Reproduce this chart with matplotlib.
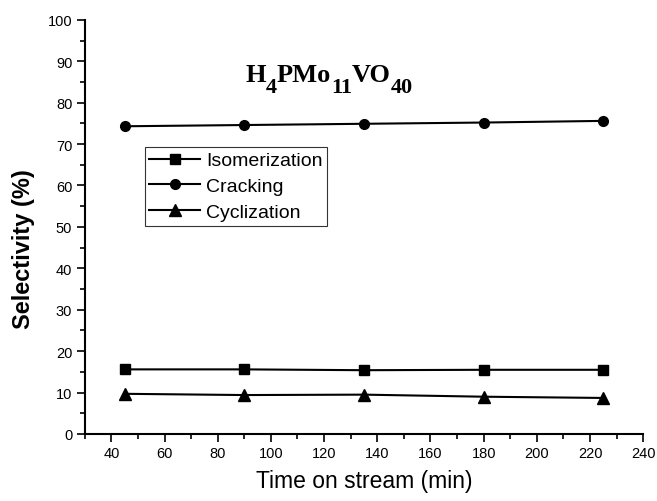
import matplotlib.pyplot as plt
from matplotlib.ticker import MultipleLocator

# Selectivity vs time on stream
time_min = [45, 90, 135, 180, 225]
isomerization = [15.6, 15.6, 15.4, 15.5, 15.5]
cracking = [74.3, 74.6, 74.9, 75.2, 75.6]
cyclization = [9.7, 9.4, 9.5, 9.0, 8.7]

# formula label pieces: (text, is_subscript)
formula = [('H', False), ('4', True), ('PMo', False), ('11', True), ('VO', False), ('40', True)]

plt.rcParams['font.family'] = ['Liberation Sans', 'DejaVu Sans']

W, H = 657, 502
fig = plt.figure(figsize=(W / 100, H / 100), dpi=100)
ax = fig.add_axes([0.129, 0.1335, 0.85, 0.825])

ax.plot(time_min, isomerization, color='black', marker='s', markersize=7, lw=1.5, label='Isomerization')
ax.plot(time_min, cracking, color='black', marker='o', markersize=7, lw=1.5, label='Cracking')
ax.plot(time_min, cyclization, color='black', marker='^', markersize=8, lw=1.5, label='Cyclization')

ax.set_xlim(30, 240)
ax.set_ylim(0, 100)
ax.xaxis.set_major_locator(MultipleLocator(20))
ax.xaxis.set_minor_locator(MultipleLocator(10))
ax.yaxis.set_major_locator(MultipleLocator(10))
ax.yaxis.set_minor_locator(MultipleLocator(5))
ax.tick_params(which='major', direction='out', length=6, width=1.2, labelsize=10.5, pad=3)
ax.tick_params(which='minor', direction='out', length=3.5, width=1.2)

for s in ['top', 'right']:
    ax.spines[s].set_visible(False)
for s in ['left', 'bottom']:
    ax.spines[s].set_linewidth(1.5)

ax.set_xlabel('Time on stream (min)', fontsize=16.5, labelpad=6)
ax.set_ylabel('Selectivity (%)', fontsize=17, fontweight='bold')
ax.yaxis.set_label_coords(-0.089, 0.449)

leg = ax.legend(loc='upper left', bbox_to_anchor=(0.107, 0.693), fontsize=14,
                frameon=True, fancybox=False, edgecolor='black', borderpad=0.25,
                handlelength=2.6, handletextpad=0.3, labelspacing=0.42, borderaxespad=0)
leg.get_frame().set_linewidth(0.8)

# chemical formula with large subscripts, placed piece by piece
fig.canvas.draw()
renderer = fig.canvas.get_renderer()
x_px, base_px = 245, H - 82
for txt, sub in formula:
    t = fig.text(x_px / W, (base_px - (11 if sub else 0)) / H, txt,
                 fontsize=16 if sub else 19, fontweight='bold',
                 family='Liberation Serif', va='baseline', ha='left')
    x_px += t.get_window_extent(renderer).width

fig.savefig('out.png', dpi=100)
